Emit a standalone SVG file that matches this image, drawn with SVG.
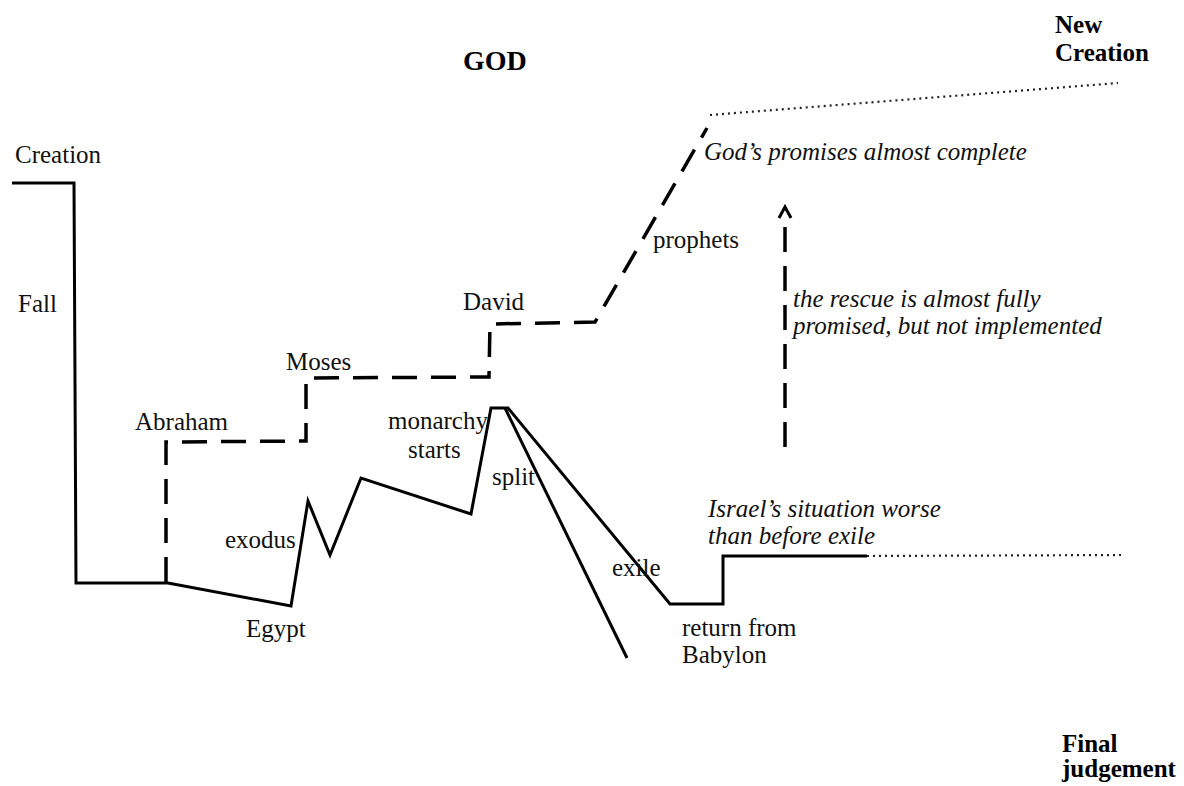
<svg xmlns="http://www.w3.org/2000/svg" width="1184" height="786" viewBox="0 0 1184 786">
<style>
.solid{fill:none;stroke:#000;stroke-width:3;stroke-linejoin:miter;stroke-linecap:butt}
.dash{fill:none;stroke:#000;stroke-width:3.5;stroke-dasharray:25 14;stroke-linecap:butt}
.dot{fill:none;stroke:#222;stroke-width:2.2;stroke-dasharray:2 4}
.t{font-family:"Liberation Serif","Times New Roman",serif;font-size:25px;fill:#111}
.i{font-family:"Liberation Serif","Times New Roman",serif;font-size:25px;font-style:italic;fill:#111}
.b{font-family:"Liberation Serif","Times New Roman",serif;font-size:25px;font-weight:bold;fill:#000}
</style>
<rect width="1184" height="786" fill="#fff"/>
<g id="connectors">
<path class="solid" d="M12,183 L74,183 L76,583 L168,583 L291,606 L308,501 L330,555 L361,478 L471,514 L491,408 L508,408 L670,604 L723,604 L723,556 L867,556"/>
<path class="solid" d="M505,408 L627,658"/>
<path class="dash" d="M166,582 L166,442 L306,441 L306,378 L489,377 L490,324 L595,322 L707,128"/>
<path class="dash" d="M785,447 L785,218"/>
<path class="solid" d="M779,218 L785,207 L791,218" stroke-width="2.5"/>
<path class="dot" d="M710,115 L1118,83"/>
<path class="dot" d="M867,556 L1125,555"/>
</g>
<g id="god"><text class="b" x="463" y="70" font-size="28" style="font-size:28px">GOD</text></g>
<g id="new-creation"><text class="b" x="1055" y="33">New</text><text class="b" x="1055" y="61">Creation</text></g>
<g id="final-judgement"><text class="b" x="1062" y="752">Final</text><text class="b" x="1062" y="777">judgement</text></g>
<g id="creation"><text class="t" x="15" y="163">Creation</text></g>
<g id="fall"><text class="t" x="18" y="312">Fall</text></g>
<g id="abraham"><text class="t" x="135" y="430">Abraham</text></g>
<g id="moses"><text class="t" x="286" y="370">Moses</text></g>
<g id="david"><text class="t" x="463" y="310">David</text></g>
<g id="monarchy"><text class="t" x="388" y="429">monarchy</text><text class="t" x="408" y="458">starts</text></g>
<g id="split"><text class="t" x="492" y="485">split</text></g>
<g id="exodus"><text class="t" x="225" y="548">exodus</text></g>
<g id="egypt"><text class="t" x="246" y="637">Egypt</text></g>
<g id="exile"><text class="t" x="612" y="576">exile</text></g>
<g id="return"><text class="t" x="682" y="636">return from</text><text class="t" x="682" y="663">Babylon</text></g>
<g id="prophets"><text class="t" x="653" y="248">prophets</text></g>
<g id="promises"><text class="i" x="704" y="160">God’s promises almost complete</text></g>
<g id="rescue"><text class="i" x="793" y="307">the rescue is almost fully</text><text class="i" x="793" y="334">promised, but not implemented</text></g>
<g id="israel"><text class="i" x="708" y="517">Israel’s situation worse</text><text class="i" x="708" y="544">than before exile</text></g>
</svg>
